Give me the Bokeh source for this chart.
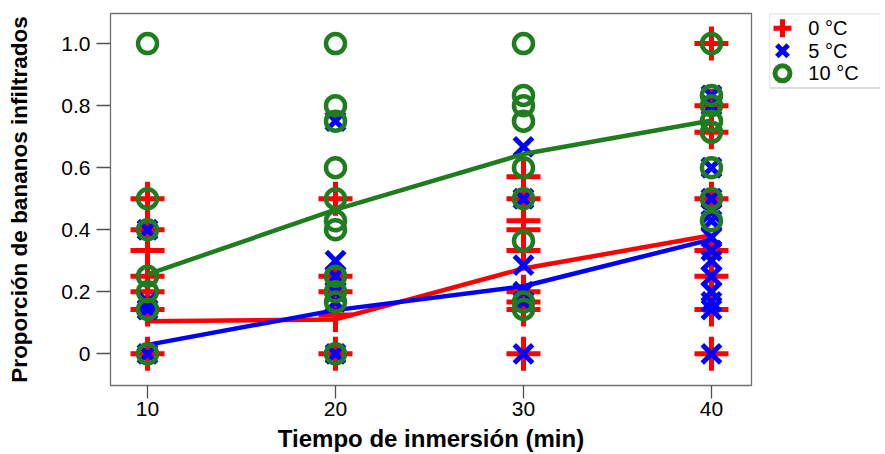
from bokeh.plotting import figure
from bokeh.models import FixedTicker, BoxAnnotation
from bokeh.layouts import row
from bokeh.core.properties import value
from bokeh.embed import file_html
from bokeh.resources import INLINE

# ---- data ----
times = [10, 20, 30, 40]

red_10 = [0.5, 0.4, 0.333, 0.25, 0.2, 0.143, 0.0]
red_20 = [0.5, 0.25, 0.2, 0.125, 0.0]
red_30 = [0.571, 0.5, 0.429, 0.4, 0.333, 0.2, 0.167, 0.143, 0.0]
red_40 = [1.0, 0.8, 0.714, 0.5, 0.333, 0.25, 0.143, 0.0]

blue_10 = [0.4, 0.167, 0.143, 0.0]
blue_20 = [0.75, 0.3, 0.25, 0.2, 0.167, 0.0]
blue_30 = [0.667, 0.5, 0.286, 0.2, 0.167, 0.0]
blue_40 = [0.833, 0.8, 0.6, 0.5, 0.455, 0.429, 0.375, 0.333, 0.3, 0.25, 0.2, 0.167, 0.143, 0.0]

green_10 = [1.0, 0.5, 0.4, 0.25, 0.2, 0.143, 0.0]
green_20 = [1.0, 0.8, 0.75, 0.6, 0.5, 0.429, 0.4, 0.25, 0.2, 0.167, 0.0]
green_30 = [1.0, 0.833, 0.8, 0.75, 0.6, 0.5, 0.364, 0.167, 0.143]
green_40 = [1.0, 0.833, 0.8, 0.75, 0.714, 0.6, 0.5, 0.429]

red_mean = [0.105, 0.111, 0.275, 0.382]
blue_mean = [0.029, 0.141, 0.218, 0.369]
green_mean = [0.256, 0.465, 0.644, 0.752]

labels = ["0 °C", "5 °C", "10 °C"]
markers = ["cross", "x", "circle"]
y_ticks = [0, 0.2, 0.4, 0.6, 0.8, 1.0]

RED = "#ff0000"
BLUE = "#0000ff"
GREEN = "#1f7d1f"
colors = [RED, BLUE, GREEN]
FONT = "Liberation Sans"
FRAME = "#707070"


def flatten(groups):
    xs, ys = [], []
    for t, vals in zip(times, groups):
        xs += [t] * len(vals)
        ys += vals
    return xs, ys


p = figure(width=761, height=454, output_backend="svg", toolbar_location=None,
           x_range=(8.03, 42.13), y_range=(-0.102, 1.097),
           min_border_left=110, min_border_right=10, min_border_top=13, min_border_bottom=67)
p.xgrid.visible = False
p.ygrid.visible = False
p.outline_line_color = FRAME
p.outline_line_width = 1.3
p.background_fill_color = "white"
p.border_fill_color = "white"

rx, ry = flatten([red_10, red_20, red_30, red_40])
bx, by = flatten([blue_10, blue_20, blue_30, blue_40])
gx, gy = flatten([green_10, green_20, green_30, green_40])

p.scatter(rx, ry, marker="cross", size=34, line_color=RED, line_width=5)
p.line(times, red_mean, line_color=RED, line_width=4.5)
p.scatter(bx, by, marker="x", size=26, line_color=BLUE, line_width=5)
p.line(times, blue_mean, line_color=BLUE, line_width=4.5)
p.scatter(gx, gy, marker="circle", size=19, line_color=GREEN, line_width=4.5, fill_color=None)
p.line(times, green_mean, line_color=GREEN, line_width=4.5)

for ax in (p.xaxis[0], p.yaxis[0]):
    ax.axis_line_color = None
    ax.major_tick_line_color = "#505050"
    ax.major_tick_line_width = 1.3
    ax.minor_tick_line_color = None
    ax.major_tick_in = 0
    ax.major_label_text_font = FONT
    ax.major_label_text_font_size = "21px"
    ax.major_label_text_color = "black"
    ax.axis_label_text_font = FONT
    ax.axis_label_text_font_style = "bold"
    ax.axis_label_text_color = "black"

p.xaxis.ticker = FixedTicker(ticks=times)
p.xaxis.major_tick_out = 13
p.xaxis.major_label_standoff = 3
p.xaxis.axis_label = "Tiempo de inmersión (min)"
p.xaxis.axis_label_text_font_size = "24px"
p.xaxis.axis_label_standoff = 6

p.yaxis.ticker = FixedTicker(ticks=y_ticks)
p.yaxis.major_label_overrides = {0: "0", 0.2: "0.2", 0.4: "0.4", 0.6: "0.6", 0.8: "0.8", 1: "1.0"}
p.yaxis.major_tick_out = 14
p.yaxis.major_label_standoff = 6
p.yaxis.axis_label = "Proporción de bananos infiltrados"
p.yaxis.axis_label_text_font_size = "22.5px"
p.yaxis.axis_label_standoff = 26

# ---- legend panel (same vertical borders as the main plot) ----
# one y unit = one legend row (~22.7 px); frame is 374 px tall
lg = figure(width=119, height=454, output_backend="svg", toolbar_location=None,
            x_range=(0, 1), y_range=(15.83, -0.65), x_axis_type=None, y_axis_type=None,
            min_border_left=8, min_border_right=0, min_border_top=13, min_border_bottom=67)
lg.xgrid.visible = False
lg.ygrid.visible = False
lg.outline_line_color = None
lg.border_fill_color = "white"
lg.add_layout(BoxAnnotation(left=0, right=1, top=-0.65, bottom=len(labels) - 0.35,
                            fill_color=None, line_color=FRAME, line_width=1.3))
idx = list(range(len(labels)))
for i in idx:
    lg.scatter([0.117], [i], marker=markers[i], size=[18, 16, 15][i],
               line_color=colors[i], line_width=5, fill_color=None)
lg.text(x=[0.35] * len(labels), y=idx, text=labels, text_font=value(FONT),
        text_font_size="20px", text_baseline="middle", text_align="left", text_color="black")

layout = row(p, lg, spacing=0)
open("out.html", "w").write(file_html(layout, INLINE))
